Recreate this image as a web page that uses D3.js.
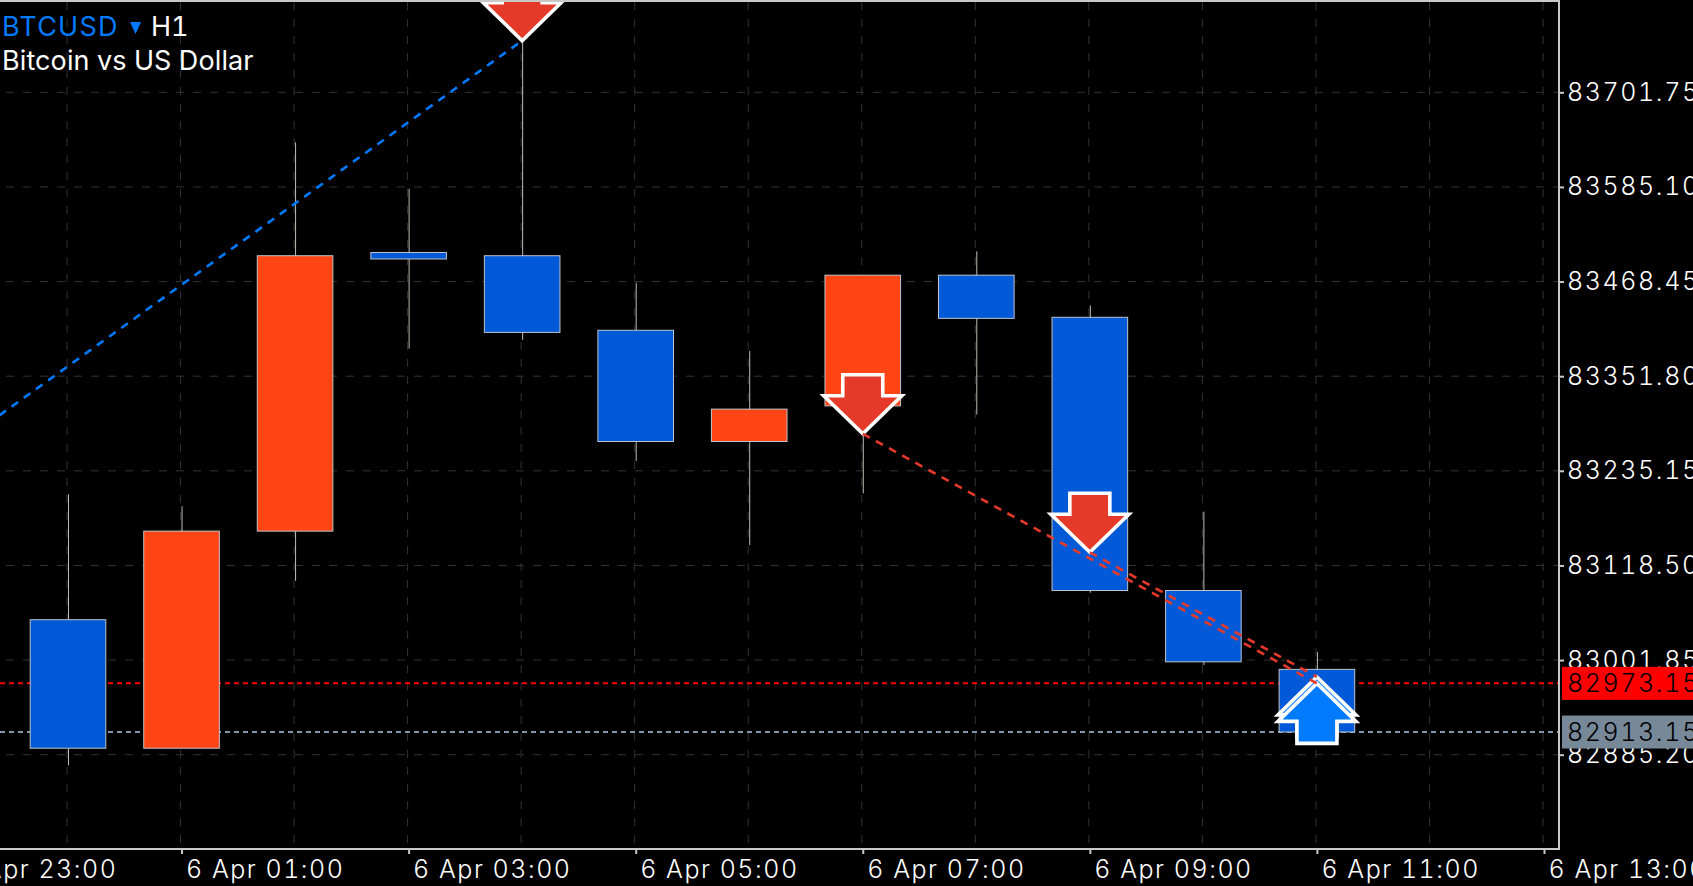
<!DOCTYPE html>
<html><head><meta charset="utf-8">
<script src="https://cdn.jsdelivr.net/npm/d3@7"></script>
<style>
html,body{margin:0;padding:0;background:#000;overflow:hidden}
svg{display:block}
text{font-family:Inter,Roboto,"Liberation Sans",sans-serif;font-variant-numeric:tabular-nums}
</style></head><body>
<script>
const hours  = [0,1,2,3,4,5,6,7,8,9,10,11];
const opens  = [83051.6,82893.2,83160.8,83504.3,83500.3,83408.4,83271.3,83315.2,83476.3,83424.4,83087.6,82990.4];
const closes = [82893.2,83160.8,83500.3,83496.3,83405.8,83271.3,83311.2,83476.3,83423.1,83087.6,82999.7,82913.2];
const highs  = [83206.1,83191.4,83640.1,83582.8,83830.0,83467.0,83383.1,83476.3,83505.6,83439.0,83184.8,83011.7];
const lows   = [82871.9,82893.2,83099.5,83385.8,83396.4,83247.3,83143.5,83207.4,83304.6,83084.9,82995.7,82913.2];

const priceTicks = [83701.75,83585.10,83468.45,83351.80,83235.15,83118.50,83001.85,82885.20];
const gridHours  = [-1,0,1,2,3,4,5,6,7,8,9,10,11,12,13];
const timeTickHours  = [-1,1,3,5,7,9,11,13];
const timeTickLabels = ["5 Apr 23:00","6 Apr 01:00","6 Apr 03:00","6 Apr 05:00","6 Apr 07:00","6 Apr 09:00","6 Apr 11:00","6 Apr 13:00"];

const sellArrowHours  = [4,7,9];
const sellArrowPrices = [83765.4,83280.8,83134.7];
const buyArrowHours   = [11,11];
const buyArrowPrices  = [82981.1,82973.15];

const tradeBlueHours  = [-2,4];
const tradeBluePrices = [83163.5,83765.4];
const tradeRedAHours  = [7,11];
const tradeRedAPrices = [83280.8,82973.15];
const tradeRedBHours  = [9,11];
const tradeRedBPrices = [83134.7,82981.1];

const askPrice = 82973.15, bidPrice = 82913.15;
const askText = "82973.15", bidText = "82913.15";

const W=1693,H=886,R=1559,T=2,B=849;
const x=d3.scaleLinear().domain([0,13]).range([68,1544]);
const y=d3.scaleLinear().domain([83701.75,82885.20]).range([92.3,754.7]);
const up='#ff4514',down='#0059d6',sellC='#e53a2a',buyC='#007aff';

const svg=d3.select('body').append('svg').attr('width',W).attr('height',H).style('background','#000');
svg.append('defs').append('clipPath').attr('id','plot').append('rect')
  .attr('x',0).attr('y',T).attr('width',R).attr('height',B-T);
const g=svg.append('g').attr('clip-path','url(#plot)');

// grid
g.selectAll('.gv').data(gridHours).join('line')
  .attr('x1',d=>x(d)-1).attr('x2',d=>x(d)-1).attr('y1',T).attr('y2',B)
  .attr('stroke','#333').attr('stroke-width',1).attr('stroke-dasharray','8,9');
g.selectAll('.gh').data(priceTicks).join('line')
  .attr('x1',6).attr('x2',R).attr('y1',d=>y(d)).attr('y2',d=>y(d))
  .attr('stroke','#333').attr('stroke-width',1).attr('stroke-dasharray','8,9');

// price lines
const hline=(p,c)=>g.append('line').attr('x1',0).attr('x2',R).attr('y1',y(p)).attr('y2',y(p))
  .attr('stroke',c).attr('stroke-width',2).attr('stroke-dasharray','5,4');
hline(askPrice,'#ff0000');
hline(bidPrice,'#8495a6');

// candles
g.selectAll('.wick').data(hours).join('line')
  .attr('x1',d=>x(d)+.5).attr('x2',d=>x(d)+.5)
  .attr('y1',(d,i)=>y(highs[i])).attr('y2',(d,i)=>y(lows[i]))
  .attr('stroke','#bdbdb4').attr('stroke-width',1);
const bw=75.6;
g.selectAll('.body').data(hours).join('rect')
  .attr('x',d=>x(d)-bw/2).attr('width',bw)
  .attr('y',(d,i)=>y(Math.max(opens[i],closes[i])))
  .attr('height',(d,i)=>Math.abs(y(opens[i])-y(closes[i])))
  .attr('fill',(d,i)=>closes[i]>opens[i]?up:down)
  .attr('stroke','#bfc4cc').attr('stroke-width',1);

// trade lines
const line=d3.line().x(d=>x(d[0])).y(d=>y(d[1]));
const trade=(hs,ps,c)=>g.append('path').attr('d',line(hs.map((h,i)=>[h,ps[i]])))
  .attr('fill','none').attr('stroke',c).attr('stroke-width',2.6).attr('stroke-dasharray','8,7');

// arrows: relative path, tip at origin
const downPath='M0,0 L-39,-38 L-20,-38 L-20,-59 L20,-59 L20,-38 L39,-38 Z';
const upPath='M0,0 L-39,38 L-20,38 L-20,60 L20,60 L20,38 L39,38 Z';
const arrow=(hx,p,path,c)=>g.append('path').attr('d',path)
  .attr('transform',`translate(${x(hx)},${y(p)})`)
  .attr('fill',c).attr('stroke','#fff').attr('stroke-width',3.6).attr('stroke-linejoin','miter');

sellArrowHours.forEach((h,i)=>arrow(h,sellArrowPrices[i],downPath,sellC));
buyArrowHours.forEach((h,i)=>arrow(h,buyArrowPrices[i],upPath,buyC));
trade(tradeBlueHours,tradeBluePrices,buyC);
trade(tradeRedAHours,tradeRedAPrices,sellC);
trade(tradeRedBHours,tradeRedBPrices,sellC);

// frame
svg.append('path').attr('d',`M0,${T-1}H${R}V${B}H0`).attr('fill','none').attr('stroke','#c8c8c8').attr('stroke-width',2);

// axes
const yAxis=d3.axisRight(y).tickValues(priceTicks).tickFormat(d3.format('.2f')).tickSize(5).tickPadding(3);
const ya=svg.append('g').attr('transform',`translate(${R},0)`).call(yAxis);
ya.select('.domain').remove();
ya.selectAll('line').attr('stroke','#c8c8c8').attr('stroke-width',2);
ya.selectAll('text').attr('fill','#fff').attr('font-size',25).attr('font-weight',300).attr('letter-spacing',1.6)
  .style('font-family','Inter');

const xAxis=d3.axisBottom(x).tickValues(timeTickHours).tickFormat((d,i)=>timeTickLabels[i]).tickSize(5);
const xa=svg.append('g').attr('transform',`translate(0,${B})`).call(xAxis);
xa.select('.domain').remove();
xa.selectAll('line').attr('stroke','#c8c8c8').attr('stroke-width',2);
xa.selectAll('text').attr('fill','#fff').attr('font-size',25).attr('font-weight',300).attr('letter-spacing',1.5)
  .style('font-family','Inter').attr('text-anchor','start').attr('x',4).attr('y',11).attr('dy','0.71em');

// price labels
const tag=(p,txt,c)=>{
  svg.append('rect').attr('x',1562).attr('y',y(p)-16.5).attr('width',W-1562).attr('height',33).attr('fill',c);
  svg.append('text').attr('x',1567).attr('y',y(p)+9).attr('fill','#000').attr('font-size',25).attr('font-weight',300).attr('letter-spacing',1.6).text(txt);
};
tag(askPrice,askText,'#ff0000');
tag(bidPrice,bidText,'#778899');

// title
svg.append('text').attr('x',2).attr('y',36).attr('font-size',27).attr('letter-spacing',1.2).attr('fill',buyC).text('BTCUSD');
svg.append('path').attr('d','M130,22 L141,22 L135.5,34 Z').attr('fill',buyC);
svg.append('text').attr('x',151).attr('y',36).attr('font-size',27).attr('fill','#fff').text('H1');
svg.append('text').attr('x',2).attr('y',70).attr('font-size',27).attr('letter-spacing',0.1).attr('fill','#fff').text('Bitcoin vs US Dollar');
</script>
</body></html>
